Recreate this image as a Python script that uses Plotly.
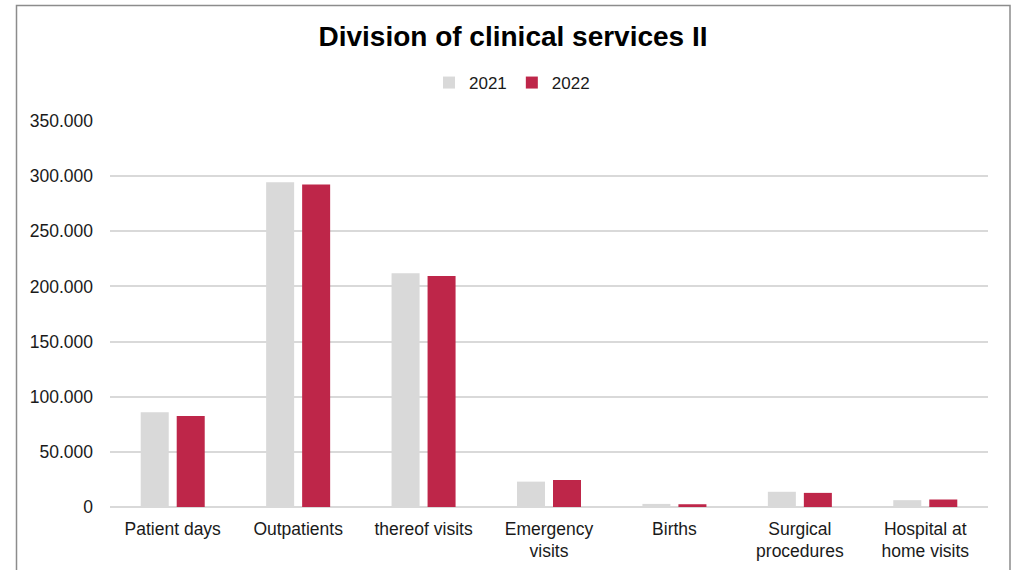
import plotly.graph_objects as go

categories = ["Patient days", "Outpatients", "thereof visits", "Emergency<br>visits",
              "Births", "Surgical<br>procedures", "Hospital at<br>home visits"]
series_names = ["2021", "2022"]
values_2021 = [86000, 294500, 212000, 23000, 2800, 13800, 6200]
values_2022 = [82500, 292500, 209500, 24500, 2500, 12800, 6800]
y_ticks = [0, 50000, 100000, 150000, 200000, 250000, 300000, 350000]

colors = ["#D9D9D9", "#BE2649"]
FONT = "Liberation Sans, Arial, sans-serif"

fig = go.Figure()
for name, vals, col in zip(series_names, [values_2021, values_2022], colors):
    fig.add_trace(go.Bar(x=categories, y=vals, name=name, marker=dict(color=col, line=dict(width=0))))

W, H = 1022, 570
L, R, T, B = 110, 1022 - 988, 121, 570 - 507
pw, ph = W - L - R, H - T - B

def px_x(x):
    return (x - L) / pw

def px_y(y):
    return (H - B - y) / ph

fig.update_layout(
    width=W, height=H,
    margin=dict(l=L, r=R, t=T, b=B, autoexpand=False),
    paper_bgcolor="white", plot_bgcolor="white",
    separators=",.",
    barmode="group", bargap=0.426, bargroupgap=0.222,
    font=dict(family=FONT, size=17.5, color="#1a1a1a"),
    title=dict(text="<b>Division of clinical services II</b>", x=513 / W, xref="container",
               xanchor="center", y=1 - 36 / H, yref="container", yanchor="middle",
               font=dict(family=FONT, size=28, color="#000000")),
    legend=dict(orientation="h", x=512 / W, xref="container", xanchor="center",
                y=1 - 83 / H, yref="container", yanchor="middle",
                font=dict(family=FONT, size=17, color="#1a1a1a"), itemwidth=30,
                traceorder="normal", bgcolor="rgba(0,0,0,0)"),
    xaxis=dict(showgrid=False, showline=False, ticks="", ticklabelstandoff=9, automargin=False,
               tickfont=dict(family=FONT, size=17.5, color="#1a1a1a")),
    yaxis=dict(range=[0, 350000], tickvals=y_ticks, tickformat=",d", showgrid=True, automargin=False,
               gridcolor="#D9D9D9", gridwidth=1.5, zeroline=True, zerolinecolor="#D9D9D9",
               zerolinewidth=1.5, showline=False, ticks="", ticklabelstandoff=16,
               tickfont=dict(family=FONT, size=17.5, color="#1a1a1a")),
    shapes=[dict(type="rect", xref="paper", yref="paper",
                 x0=px_x(16.5), x1=px_x(1010), y0=px_y(590), y1=px_y(5.5),
                 line=dict(color="#8C8C8C", width=1.5), fillcolor="rgba(0,0,0,0)", layer="below")],
)

fig.write_html("out.html", config={"displayModeBar": False},
               post_script="document.body.style.margin='0';document.body.style.overflow='hidden';")
